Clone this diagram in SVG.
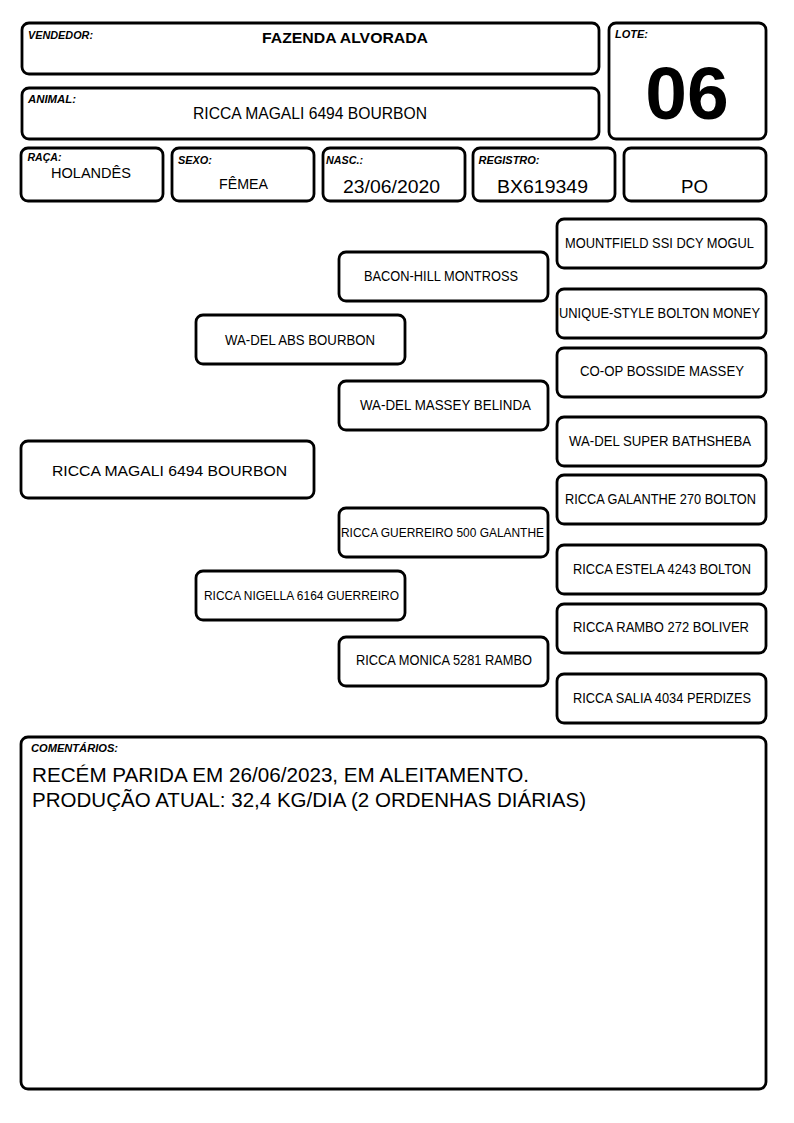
<svg xmlns="http://www.w3.org/2000/svg" width="794" height="1123" viewBox="0 0 794 1123">
<style>
.box{fill:#fff;stroke:#000;stroke-width:2.8}
text{font-family:"Liberation Sans",Arial,sans-serif;fill:#000}
.lbl{font-size:10.5px;font-weight:bold;font-style:italic}
.val{font-size:15px}
.big{font-size:18.5px}
.t{font-size:13.8px;text-anchor:middle}
.ts{font-size:12.8px;text-anchor:middle}
.c{text-anchor:middle}
.cm{font-size:20.5px}
</style>
<rect width="794" height="1123" fill="#fff"/>
<g id="vendedor">
<rect class="box" x="22" y="23" width="577" height="51" rx="7"/>
<text class="lbl" x="28" y="39" textLength="65" lengthAdjust="spacingAndGlyphs">VENDEDOR:</text>
<text x="345" y="43.3" font-size="15.5" font-weight="bold" text-anchor="middle" textLength="166" lengthAdjust="spacingAndGlyphs">FAZENDA ALVORADA</text>
</g>
<g id="animal">
<rect class="box" x="22" y="88" width="577" height="51" rx="7"/>
<text class="lbl" x="28" y="103.3" textLength="48" lengthAdjust="spacingAndGlyphs">ANIMAL:</text>
<text x="310" y="119" font-size="16" text-anchor="middle" textLength="234" lengthAdjust="spacingAndGlyphs">RICCA MAGALI 6494 BOURBON</text>
</g>
<g id="lote">
<rect class="box" x="609" y="23" width="157" height="116" rx="7"/>
<text class="lbl" x="615" y="38.3" textLength="33" lengthAdjust="spacingAndGlyphs">LOTE:</text>
<text x="687" y="119" font-size="75" font-weight="bold" text-anchor="middle">06</text>
</g>
<g id="raca">
<rect class="box" x="21" y="148" width="142" height="53" rx="7"/>
<text class="lbl" x="27.5" y="161.3" textLength="34" lengthAdjust="spacingAndGlyphs">RAÇA:</text>
<text class="val c" x="91" y="177.5" textLength="80" lengthAdjust="spacingAndGlyphs">HOLANDÊS</text>
</g>
<g id="sexo">
<rect class="box" x="172" y="148" width="142" height="53" rx="7"/>
<text class="lbl" x="178" y="164" textLength="34" lengthAdjust="spacingAndGlyphs">SEXO:</text>
<text class="val c" x="243.5" y="189" textLength="49" lengthAdjust="spacingAndGlyphs">FÊMEA</text>
</g>
<g id="nasc">
<rect class="box" x="323" y="148" width="142" height="53" rx="7"/>
<text class="lbl" x="326" y="164" textLength="37" lengthAdjust="spacingAndGlyphs">NASC.:</text>
<text class="big c" x="391.5" y="193" textLength="97" lengthAdjust="spacingAndGlyphs">23/06/2020</text>
</g>
<g id="registro">
<rect class="box" x="473" y="148" width="142" height="53" rx="7"/>
<text class="lbl" x="478.5" y="164" textLength="61" lengthAdjust="spacingAndGlyphs">REGISTRO:</text>
<text class="big c" x="542.5" y="193" textLength="91" lengthAdjust="spacingAndGlyphs">BX619349</text>
</g>
<g id="categoria">
<rect class="box" x="624" y="148" width="142" height="53" rx="7"/>
<text class="big c" x="694.5" y="193" textLength="27" lengthAdjust="spacingAndGlyphs">PO</text>
</g>
<g id="connectors"></g>
<g id="animal-node">
<rect class="box" x="21" y="441" width="293" height="57" rx="7"/>
<text x="169.5" y="475.5" font-size="15.5" text-anchor="middle" textLength="235" lengthAdjust="spacingAndGlyphs">RICCA MAGALI 6494 BOURBON</text>
</g>
<g id="pai">
<rect class="box" x="196" y="315" width="209" height="49" rx="7"/>
<text class="t" x="300" y="344.5" textLength="150" lengthAdjust="spacingAndGlyphs">WA-DEL ABS BOURBON</text>
</g>
<g id="mae">
<rect class="box" x="196" y="571" width="209" height="49" rx="7"/>
<text class="ts" x="301.5" y="599.5" textLength="195" lengthAdjust="spacingAndGlyphs">RICCA NIGELLA 6164 GUERREIRO</text>
</g>
<g id="avo-pp">
<rect class="box" x="339" y="252" width="209" height="49" rx="7"/>
<text class="t" x="441" y="281" textLength="154" lengthAdjust="spacingAndGlyphs">BACON-HILL MONTROSS</text>
</g>
<g id="avo-pm">
<rect class="box" x="339" y="381" width="209" height="49" rx="7"/>
<text class="t" x="445.5" y="410" textLength="171" lengthAdjust="spacingAndGlyphs">WA-DEL MASSEY BELINDA</text>
</g>
<g id="avo-mp">
<rect class="box" x="339" y="508" width="209" height="49" rx="7"/>
<text class="ts" x="442.5" y="536.5" textLength="203" lengthAdjust="spacingAndGlyphs">RICCA GUERREIRO 500 GALANTHE</text>
</g>
<g id="avo-mm">
<rect class="box" x="339" y="637" width="209" height="49" rx="7"/>
<text class="t" x="444" y="665" textLength="176" lengthAdjust="spacingAndGlyphs">RICCA MONICA 5281 RAMBO</text>
</g>
<g id="bisavo-1">
<rect class="box" x="557" y="219" width="209" height="49" rx="7"/>
<text class="t" x="659.5" y="247.5" textLength="189" lengthAdjust="spacingAndGlyphs">MOUNTFIELD SSI DCY MOGUL</text>
</g>
<g id="bisavo-2">
<rect class="box" x="557" y="289" width="209" height="49" rx="7"/>
<text class="t" x="659.5" y="318" textLength="201" lengthAdjust="spacingAndGlyphs">UNIQUE-STYLE BOLTON MONEY</text>
</g>
<g id="bisavo-3">
<rect class="box" x="557" y="348" width="209" height="49" rx="7"/>
<text class="t" x="662" y="376" textLength="164" lengthAdjust="spacingAndGlyphs">CO-OP BOSSIDE MASSEY</text>
</g>
<g id="bisavo-4">
<rect class="box" x="557" y="417" width="209" height="49" rx="7"/>
<text class="t" x="660" y="446" textLength="182" lengthAdjust="spacingAndGlyphs">WA-DEL SUPER BATHSHEBA</text>
</g>
<g id="bisavo-5">
<rect class="box" x="557" y="475" width="209" height="49" rx="7"/>
<text class="t" x="660.5" y="504" textLength="191" lengthAdjust="spacingAndGlyphs">RICCA GALANTHE 270 BOLTON</text>
</g>
<g id="bisavo-6">
<rect class="box" x="557" y="545" width="209" height="49" rx="7"/>
<text class="t" x="662" y="573.5" textLength="178" lengthAdjust="spacingAndGlyphs">RICCA ESTELA 4243 BOLTON</text>
</g>
<g id="bisavo-7">
<rect class="box" x="557" y="604" width="209" height="49" rx="7"/>
<text class="t" x="661" y="632" textLength="176" lengthAdjust="spacingAndGlyphs">RICCA RAMBO 272 BOLIVER</text>
</g>
<g id="bisavo-8">
<rect class="box" x="557" y="674" width="209" height="49" rx="7"/>
<text class="t" x="662" y="703" textLength="178" lengthAdjust="spacingAndGlyphs">RICCA SALIA 4034 PERDIZES</text>
</g>
<g id="comentarios">
<rect class="box" x="21" y="737" width="745" height="352" rx="7"/>
<text class="lbl" x="31" y="752" textLength="87" lengthAdjust="spacingAndGlyphs">COMENTÁRIOS:</text>
<text class="cm" x="32" y="781.5" textLength="497" lengthAdjust="spacingAndGlyphs">RECÉM PARIDA EM 26/06/2023, EM ALEITAMENTO.</text>
<text class="cm" x="32" y="806.5" textLength="554" lengthAdjust="spacingAndGlyphs">PRODUÇÃO ATUAL: 32,4 KG/DIA (2 ORDENHAS DIÁRIAS)</text>
</g>
</svg>
